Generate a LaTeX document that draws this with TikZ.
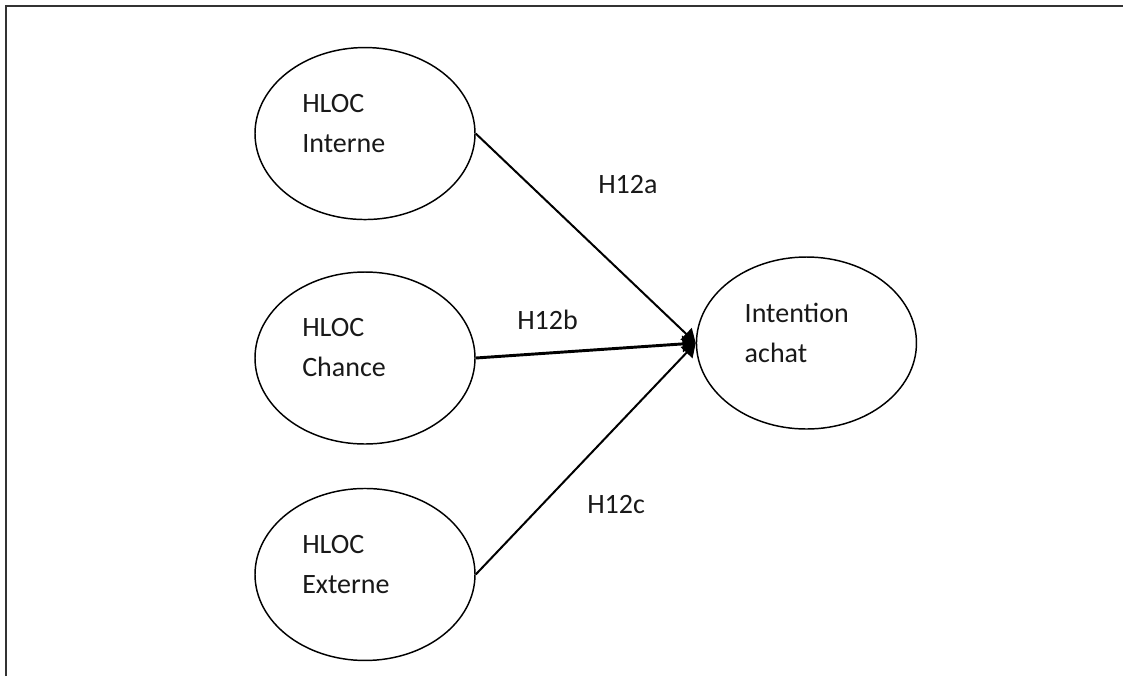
\documentclass[tikz,border=0pt]{standalone}
\usepackage{tikz}
\usepackage{fontspec}
\setmainfont{Carlito}
\usetikzlibrary{arrows.meta,shapes.geometric,positioning}
\tikzset{
	construct/.style={
		ellipse,
		draw=black,
		line width=1.1pt,
		fill=white,
		inner sep=0pt,
		minimum width=165pt,
		minimum height=129pt
	},
	txt/.style={
		anchor=base west,
		align=left,
		inner sep=0pt,
		text=black!90,
		font=\fontsize{21}{30}\selectfont
	},
	arrow/.style={
		draw=black,
		line width=1.5pt,
		-{Triangle[length=10pt,width=12pt]}
	},
}

\begin{document}
\begin{tikzpicture}[x=0.75pt,y=-0.75pt]
	\useasboundingbox (0,0) rectangle (1123,676);
	% frame
	\draw[line width=1.6pt,black!80] (6,676) -- (6,6) -- (1123,6);

	\node [construct] (chance) at (365,358) {};
	\node [construct] (interne) [above=38.25pt of chance] {};
	\node [construct] (externe) [below=32.25pt of chance] {};
	\node [construct] (intention) [right=165pt of chance, yshift=11.25pt] {};

	% base = last line
	\node [txt] (interne-txt) at ([xshift=-47.25pt,yshift=-14pt]interne.center) {HLOC\\Interne};
	\node [txt] (chance-txt) at ([xshift=-47.25pt,yshift=-13.5pt]chance.center) {HLOC\\Chance};
	\node [txt] (externe-txt) at ([xshift=-47.25pt,yshift=-14pt]externe.center) {HLOC\\Externe};
	\node [txt] (intention-txt) at ([xshift=-46.5pt,yshift=-14.5pt]intention.center) {Intention\\achat};

	\path
	(interne.east) edge[arrow] (intention.west)
	(chance.east) edge[arrow,line width=2.2pt] (intention.west)
	(externe.east) edge[arrow] (intention.west)
	;

	\node [txt] (h12a) at (598,193) {H12a};
	\node [txt] (h12b) at (517,329) {H12b};
	\node [txt] (h12c) at (587,513) {H12c};
\end{tikzpicture}
\end{document}
